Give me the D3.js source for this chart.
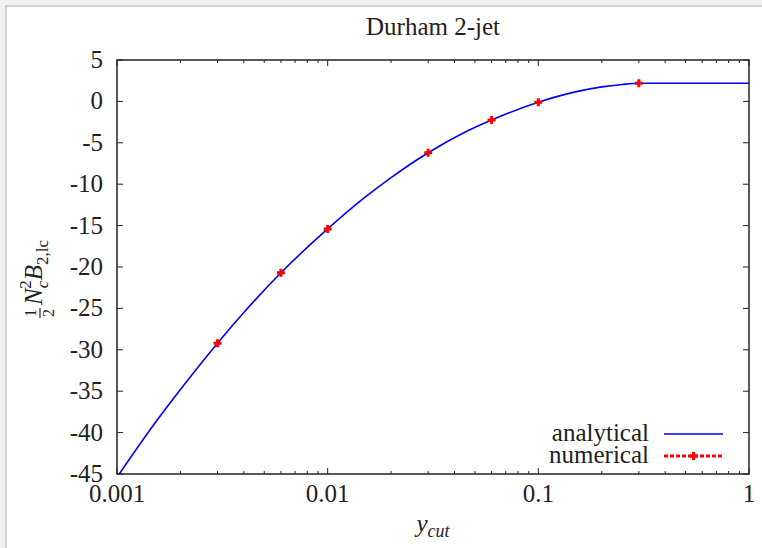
<!DOCTYPE html>
<html>
<head>
<meta charset="utf-8">
<script src="https://cdn.jsdelivr.net/npm/d3@7"></script>
<style>
  html, body { margin: 0; padding: 0; background: #fff; }
  svg { display: block; font-family: "Liberation Serif", "DejaVu Serif", serif; }
</style>
</head>
<body>
<svg id="chart" width="762" height="548"></svg>
<script>
/*** DATA ***/
// analytical curve
const anaX = [0.001, 0.0015, 0.002, 0.003, 0.004, 0.006, 0.01, 0.015, 0.02, 0.03, 0.045, 0.06, 0.1, 0.15, 0.2, 0.25, 0.3, 0.35, 0.5, 1];
const anaY = [-45.4, -39.0, -34.8, -29.2, -25.5, -20.7, -15.4, -11.6, -9.2, -6.2, -3.7, -2.25, -0.1, 1.15, 1.75, 2.05, 2.2, 2.2, 2.2, 2.2];

// numerical points
const numX = [0.003, 0.006, 0.01, 0.03, 0.06, 0.1, 0.3];
const numY = [-29.2, -20.7, -15.4, -6.2, -2.25, -0.1, 2.2];

const yTicks = [5, 0, -5, -10, -15, -20, -25, -30, -35, -40, -45];
const xTicks = [0.001, 0.01, 0.1, 1];
const xTickLabels = ["0.001", "0.01", "0.1", "1"];

const titleText = "Durham 2-jet";
const legendLabels = ["analytical", "numerical"];

/*** CONSTANTS ***/
const WIDTH = 762, HEIGHT = 548;
const margin = {top: 60, right: 13, bottom: 74, left: 117};
const FONT = 25;
const INK = "#222";

const svg = d3.select("#chart");

// screenshot frame
svg.append("rect").attr("x", 0).attr("y", 0).attr("width", WIDTH).attr("height", 5.5).attr("fill", "#f0f0f0");
svg.append("rect").attr("x", 0).attr("y", 0).attr("width", 5.5).attr("height", HEIGHT).attr("fill", "#f0f0f0");
svg.append("line").attr("x1", 5.5).attr("x2", WIDTH).attr("y1", 6).attr("y2", 6).attr("stroke", "#c4c4c4").attr("stroke-width", 1.5);
svg.append("line").attr("x1", 6).attr("x2", 6).attr("y1", 5.5).attr("y2", HEIGHT).attr("stroke", "#c4c4c4").attr("stroke-width", 1.5);

const x = d3.scaleLog()
  .domain([0.001, 1])
  .range([margin.left, WIDTH - margin.right]);

const y = d3.scaleLinear()
  .domain([-45, 5])
  .range([HEIGHT - margin.bottom, margin.top]);

const x0 = margin.left, x1 = WIDTH - margin.right;
const y0 = HEIGHT - margin.bottom, y1 = margin.top;

svg.append("clipPath").attr("id", "clip")
  .append("rect")
  .attr("x", x0).attr("y", y1)
  .attr("width", x1 - x0).attr("height", y0 - y1);

// ticks, gnuplot style (inward, mirrored)
const minorX = [];
[0.001, 0.01, 0.1].forEach(d => { for (let k = 2; k <= 9; k++) minorX.push(d * k); });

const ticks = svg.append("g").attr("stroke", INK).attr("stroke-width", 1);
yTicks.forEach(v => {
  ticks.append("line").attr("x1", x0).attr("x2", x0 + 6).attr("y1", y(v)).attr("y2", y(v));
  ticks.append("line").attr("x1", x1).attr("x2", x1 - 6).attr("y1", y(v)).attr("y2", y(v));
});
xTicks.forEach(v => {
  ticks.append("line").attr("x1", x(v)).attr("x2", x(v)).attr("y1", y0).attr("y2", y0 - 6);
  ticks.append("line").attr("x1", x(v)).attr("x2", x(v)).attr("y1", y1).attr("y2", y1 + 6);
});
minorX.forEach(v => {
  ticks.append("line").attr("x1", x(v)).attr("x2", x(v)).attr("y1", y0).attr("y2", y0 - 3);
  ticks.append("line").attr("x1", x(v)).attr("x2", x(v)).attr("y1", y1).attr("y2", y1 + 3);
});

// tick labels
svg.append("g").selectAll("text")
  .data(yTicks)
  .join("text")
  .attr("x", x0 - 14)
  .attr("y", d => y(d) + 8)
  .attr("text-anchor", "end")
  .attr("font-size", FONT)
  .attr("fill", INK)
  .text(d => d);

svg.append("g").selectAll("text")
  .data(xTicks)
  .join("text")
  .attr("x", d => x(d))
  .attr("y", y0 + 28)
  .attr("text-anchor", "middle")
  .attr("font-size", FONT)
  .attr("fill", INK)
  .text((d, i) => xTickLabels[i]);

// analytical curve
const line = d3.line()
  .x((d, i) => x(anaX[i]))
  .y(d => y(d))
  .curve(d3.curveMonotoneX);

svg.append("path")
  .datum(anaY)
  .attr("clip-path", "url(#clip)")
  .attr("fill", "none")
  .attr("stroke", "#0000ff")
  .attr("stroke-width", 1.6)
  .attr("d", line);

// numerical points (gnuplot "+")
function plus(g, cx, cy) {
  g.append("path")
    .attr("d", `M${cx - 4},${cy}H${cx + 4}M${cx},${cy - 4}V${cy + 4}`)
    .attr("stroke", "#ff0000")
    .attr("stroke-width", 3)
    .attr("fill", "none");
}
const pts = svg.append("g");
numX.forEach((v, i) => plus(pts, x(v), y(numY[i])));

// border
svg.append("rect")
  .attr("x", x0).attr("y", y1)
  .attr("width", x1 - x0).attr("height", y0 - y1)
  .attr("fill", "none")
  .attr("stroke", INK)
  .attr("stroke-width", 1.5);

// title
svg.append("text")
  .attr("x", (x0 + x1) / 2)
  .attr("y", 35)
  .attr("text-anchor", "middle")
  .attr("font-size", FONT)
  .attr("fill", INK)
  .text(titleText);

// x label: y_cut
const xl = svg.append("text")
  .attr("x", (x0 + x1) / 2)
  .attr("y", 532)
  .attr("text-anchor", "middle")
  .attr("font-size", FONT)
  .attr("font-style", "italic")
  .attr("fill", INK);
xl.append("tspan").text("y");
xl.append("tspan").attr("font-size", 18).attr("dy", 5).text("cut");

// y label: 1/2 N_c^2 B_{2,lc}
const yl = svg.append("g").attr("transform", "translate(42,261) rotate(-90)").attr("fill", INK);
const frac = yl.append("g").attr("transform", "translate(-52,0)");
frac.append("text").attr("x", 0).attr("y", -6).attr("text-anchor", "middle").attr("font-size", 16).text("1");
frac.append("line").attr("x1", -5).attr("x2", 5).attr("y1", -2).attr("y2", -2).attr("stroke", INK).attr("stroke-width", 1.2);
frac.append("text").attr("x", 0).attr("y", 12).attr("text-anchor", "middle").attr("font-size", 16).text("2");

const ylt = yl.append("text").attr("x", -44).attr("y", 0).attr("font-size", FONT);
ylt.append("tspan").attr("font-style", "italic").text("N");
const subC = ylt.append("tspan").attr("font-style", "italic").attr("font-size", 17).attr("dy", 6).text("c");
ylt.append("tspan").attr("font-size", 17).attr("dx", -8).attr("dy", -17).text("2");
ylt.append("tspan").attr("font-style", "italic").attr("font-size", FONT).attr("dy", 11).text("B");
ylt.append("tspan").attr("font-size", 17).attr("dy", 6).text("2,lc");

// legend
const legY = [434, 456];
legendLabels.forEach((lab, i) => {
  svg.append("text")
    .attr("x", 649)
    .attr("y", legY[i] + 7)
    .attr("text-anchor", "end")
    .attr("font-size", FONT)
    .attr("fill", INK)
    .text(lab);
});
svg.append("line")
  .attr("x1", 664).attr("x2", 723).attr("y1", legY[0]).attr("y2", legY[0])
  .attr("stroke", "#0000ff").attr("stroke-width", 1.6);
svg.append("line")
  .attr("x1", 664).attr("x2", 723).attr("y1", legY[1]).attr("y2", legY[1])
  .attr("stroke", "#ff0000").attr("stroke-width", 3)
  .attr("stroke-dasharray", "4,2");
plus(svg, 693.5, legY[1]);
</script>
</body>
</html>
